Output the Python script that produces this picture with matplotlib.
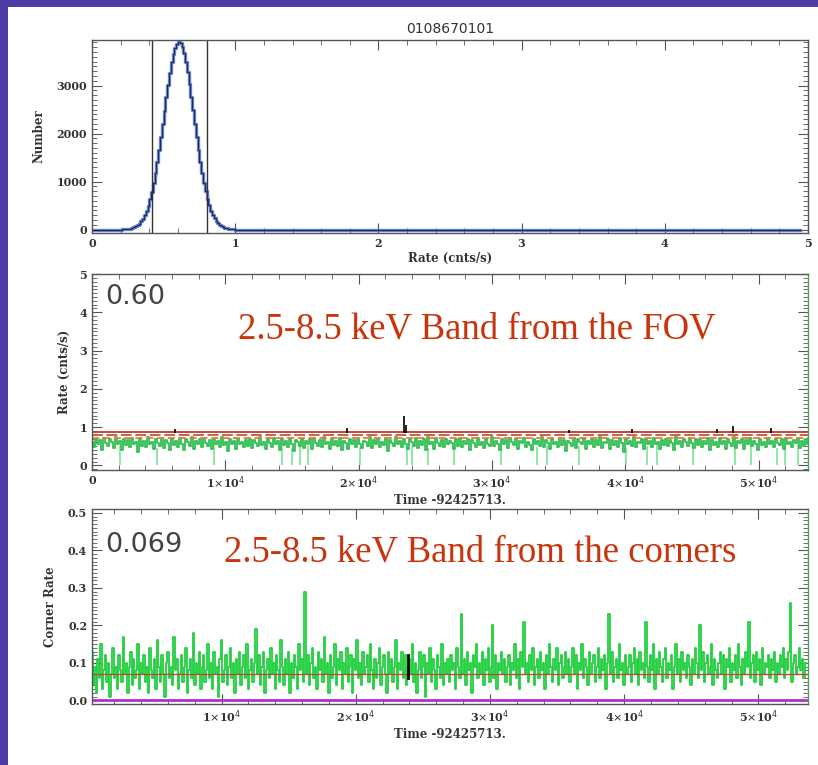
import numpy as np
import matplotlib
matplotlib.use("Agg")
import matplotlib.pyplot as plt
from matplotlib.patches import Rectangle
from matplotlib.ticker import MultipleLocator, FixedLocator, FixedFormatter, FormatStrFormatter

# ---- histogram of the 2.5-8.5 keV rate (top panel) ----
hist_rate0, hist_bin = 0.0, 0.0125
hist_num = [0] * 16 + [
    2, 4, 7, 10, 15, 22, 32, 46, 66, 92, 126, 171, 230, 302, 390, 502,
    638, 793, 971, 1174, 1400, 1653, 1921, 2199, 2479, 2757, 3023, 3268, 3483, 3659, 3791, 3872,
    3900, 3880, 3800, 3670, 3490, 3280, 3040, 2770, 2490, 2210, 1930, 1665, 1410, 1185, 980, 800,
    645, 510, 398, 308, 236, 178, 132, 98, 70, 52, 36, 26, 18, 12, 8, 5,
    3, 2, 1] + [0] * 313
cut_low, cut_high = 0.42, 0.80

# ---- FOV light curve (middle panel), rate in 0.01 cnts/s ----
fov_mean = 0.60
fov_lines = [0.87, 0.79, 0.71]
fov_t0, fov_dt = 0, 150
fov_rate_centi = [
    62, 48, 70, 55, 66, 41, 71, 58, 50, 68, 60, 45, 73, 56, 64, 40, 69, 53, 67, 47,
    72, 57, 61, 36, 70, 52, 65, 49, 74, 55, 62, 43, 68, 58, 51, 71, 46, 66, 59, 41,
    70, 54, 63, 48, 72, 57, 39, 69, 60, 50, 73, 44, 65, 55, 68, 47, 71, 58, 52, 66,
    42, 70, 56, 63, 49, 74, 53, 61, 37, 69, 57, 64, 43, 72, 55, 60, 48, 67, 52, 70,
    45, 66, 58, 50, 73, 54, 62, 44, 68, 59, 47, 71, 56, 65, 41, 69, 53, 63, 49, 72,
    57, 38, 67, 60, 51, 70, 46, 64, 55, 68, 43, 71, 58, 52, 66, 48, 73, 56, 61, 44,
    69, 54, 65, 50, 72, 40, 63, 58, 42, 70, 55, 67, 49, 71, 57, 46, 64, 60, 52, 74,
    45, 66, 56, 69, 48, 62, 53, 71, 37, 67, 59, 50, 73, 55, 63, 47, 70, 57, 42, 68,
    61, 51, 72, 46, 65, 54, 69, 39, 74, 56, 60, 44, 71, 58, 52, 67, 47, 70, 55, 63,
    58, 43, 68, 52, 71, 47, 64, 56, 70, 39, 66, 59, 49, 72, 54, 62, 45, 69, 57, 51,
    73, 50, 63, 57, 41, 70, 55, 67, 46, 72, 60, 53, 68, 44, 65, 58, 71, 48, 62, 54,
    40, 69, 57, 64, 51, 73, 47, 66, 59, 43, 70, 56, 62, 49, 72, 53, 67, 38, 65, 58,
    52, 71, 45, 68, 60, 55, 72, 42, 64, 57, 69, 48, 66, 53, 74, 46, 61, 58, 70, 44,
    67, 54, 63, 49, 71, 58, 36, 69, 56, 65, 51, 73, 47, 62, 59, 68, 43, 70, 55, 64,
    48, 72, 57, 61, 44, 67, 53, 70, 50, 66, 58, 41, 73, 55, 63, 47, 69, 60, 52, 71,
    59, 45, 68, 54, 70, 49, 64, 57, 72, 39, 66, 53, 61, 48, 71, 56, 65, 44, 69, 58,
    51, 73, 46, 63, 58, 69, 42, 67, 55, 71, 50, 64, 57, 40, 70, 54, 62, 48, 72, 56,
    65, 47, 70, 59, 53, 68, 44, 72, 56, 61, 49, 66, 58, 71, 45, 64, 52, 69, 57, 62]
fov_gap_t = [2100, 4840, 9140, 14220, 15000, 15590, 16180, 20090, 23600, 24000,
             25170, 27120, 30640, 33380, 34160, 36510, 40030, 41590, 42360, 45110,
             48240, 49400, 51350, 51950, 52930]
fov_gap_top = [0.50, 0.45, 0.55, 0.50, 0.45, 0.55, 0.50, 0.48, 0.52, 0.50,
               0.45, 0.50, 0.55, 0.48, 0.50, 0.52, 0.45, 0.50, 0.55, 0.48,
               0.50, 0.52, 0.45, 0.50, 0.55]
fov_hi_t = [6200, 19100, 23400, 23550, 35800, 40500, 46900, 48100, 50900]
fov_hi_rate = [0.95, 0.98, 1.28, 1.05, 0.93, 0.96, 0.95, 1.02, 0.97]

# ---- corner light curve (bottom panel), rate in 0.01 cnts/s ----
corner_mean = 0.069
corner_t0, corner_dt = 350, 111
corner_rate_centi = [
    13, 4, 9, 2, 11, 6, 15, 3, 8, 12, 5, 10, 1, 7, 14, 6, 9, 3, 12, 8,
    5, 17, 7, 10, 2, 9, 13, 4, 11, 6, 8, 15, 3, 10, 7, 12, 5, 9, 2, 14,
    8, 6, 11, 3, 16, 9, 5, 12, 7, 1, 10, 13, 6, 9, 4, 17, 8, 11, 3, 7,
    12, 5, 9, 14, 2, 8, 11, 6, 18, 4, 10, 7, 13, 3, 9, 12, 5, 8, 15, 6,
    10, 3, 13, 7, 9, 1, 11, 16, 5, 8, 12, 4, 9, 14, 6, 10, 2, 11, 7, 13,
    4, 9, 12, 6, 15, 3, 8, 11, 5, 10, 19, 7, 12, 4, 9, 13, 2, 8, 11, 6,
    14, 7, 10, 3, 12, 8, 5, 16, 9, 4, 11, 7, 13, 2, 10, 6, 12, 9, 3, 15,
    8, 11, 5, 29, 7, 12, 4, 10, 14, 6, 9, 3, 13, 8, 11, 5, 17, 7, 10, 2,
    12, 6, 9, 15, 4, 11, 8, 13, 3, 10, 7, 14, 5, 9, 12, 2, 11, 8, 16, 6,
    10, 4, 13, 7, 9, 12, 5, 15, 8, 3, 11, 6, 10, 14, 4, 9, 12, 7, 2, 13,
    7, 11, 5, 9, 16, 3, 10, 8, 13, 6, 12, 4, 9, 11, 7, 15, 5, 10, 2, 8,
    13, 6, 9, 12, 1, 10, 7, 14, 5, 11, 8, 3, 12, 9, 6, 15, 4, 10, 7, 11,
    5, 12, 8, 10, 3, 14, 9, 6, 23, 7, 11, 4, 13, 8, 10, 2, 12, 9, 15, 6,
    10, 7, 13, 4, 11, 8, 14, 5, 9, 20, 6, 12, 3, 10, 8, 13, 7, 11, 5, 9,
    12, 4, 10, 8, 15, 6, 11, 3, 13, 9, 21, 7, 10, 5, 12, 8, 14, 4, 9, 11,
    6, 13, 8, 10, 3, 12, 7, 15, 9, 5, 11, 8, 14, 4, 10, 12, 6, 9, 13, 7,
    11, 5, 9, 14, 7, 12, 3, 10, 8, 15, 6, 11, 9, 4, 13, 7, 10, 12, 5, 9,
    14, 6, 11, 8, 12, 3, 10, 23, 7, 13, 5, 9, 11, 6, 15, 8, 10, 4, 12, 7,
    9, 12, 5, 10, 14, 7, 11, 4, 13, 8, 10, 6, 21, 9, 5, 12, 8, 15, 3, 11,
    7, 13, 9, 5, 11, 14, 6, 10, 8, 12, 3, 9, 15, 7, 11, 5, 13, 8, 10, 6,
    12, 9, 4, 11, 7, 14, 10, 6, 20, 8, 13, 5, 10, 12, 7, 9, 15, 4, 11, 8,
    6, 10, 13, 7, 12, 3, 11, 9, 14, 5, 10, 8, 12, 6, 15, 9, 4, 11, 7, 13,
    9, 21, 6, 10, 12, 5, 13, 8, 11, 4, 14, 7, 10, 9, 12, 6, 11, 8, 13, 5,
    10, 7, 12, 9, 14, 6, 11, 8, 13, 26, 5, 10, 12, 7, 9, 14, 8, 11, 6, 10]
corner_hi_t = [23900, 23900]
corner_hi_rate = [0.06, 0.12]

time_ticks = [10000, 20000, 30000, 40000, 50000]
time_labels = [r"1$\times$10$^4$", r"2$\times$10$^4$", r"3$\times$10$^4$",
               r"4$\times$10$^4$", r"5$\times$10$^4$"]

label_font = dict(family="DejaVu Serif", weight="bold", size=8.5, color="#333333")


def idl_axes(ax, xmajor, xminor, ymajor, yminor):
    ax.tick_params(which="both", direction="in", top=True, right=True,
                   colors="#555555", labelsize=8)
    ax.tick_params(which="major", length=7, width=0.8)
    ax.tick_params(which="minor", length=3.5, width=0.6)
    ax.xaxis.set_minor_locator(MultipleLocator(xminor))
    ax.yaxis.set_minor_locator(MultipleLocator(yminor))
    ax.yaxis.set_major_locator(MultipleLocator(ymajor))
    if xmajor:
        ax.xaxis.set_major_locator(MultipleLocator(xmajor))
    for s in ax.spines.values():
        s.set_color("#555555")
        s.set_linewidth(1.0)
    for lab in ax.get_xticklabels() + ax.get_yticklabels():
        lab.set_fontfamily("DejaVu Serif")
        lab.set_fontweight("bold")
        lab.set_color("#333333")


fig = plt.figure(figsize=(8.18, 7.65), dpi=100)
fig.patch.set_facecolor("#4b3ca8")
fig.patches.append(Rectangle((8 / 818, 0), 1, 1 - 7 / 765, transform=fig.transFigure,
                             facecolor="white", edgecolor="none", zorder=-10))

# top panel
ax1 = fig.add_axes([0.1125, 0.6954, 0.8753, 0.2523])
hist_rate = hist_rate0 + hist_bin * np.arange(len(hist_num)) + hist_bin / 2
ax1.step(hist_rate, hist_num, where="mid", color="#4a68c0", lw=2.4, alpha=0.85)
ax1.step(hist_rate, hist_num, where="mid", color="#1a2a5a", lw=0.7)
ax1.axvline(cut_low, color="#333333", lw=1.0)
ax1.axvline(cut_high, color="#333333", lw=1.0)
ax1.set_xlim(0, 5)
ax1.set_ylim(-70, 3950)
ax1.set_title("0108670101", fontsize=10, family="DejaVu Sans", color="#333333", pad=5)
ax1.set_xlabel("Rate (cnts/s)", **label_font, labelpad=2)
ax1.set_ylabel("Number", **label_font, labelpad=8)
idl_axes(ax1, 1, 0.2, 1000, 100)

# middle panel
ax2 = fig.add_axes([0.1125, 0.3856, 0.8753, 0.2562])
fov_t = fov_t0 + fov_dt * np.arange(len(fov_rate_centi))
fov_rate = np.array(fov_rate_centi) / 100.0
ax2.vlines(fov_gap_t, 0, fov_gap_top, color="#8fe6a6", lw=1.4)
ax2.plot(fov_t, fov_rate, color="#2fc050", lw=1.3, drawstyle="steps-mid")
for y, ls, c in zip(fov_lines, ["-", (0, (6, 2)), (0, (4, 2))],
                    ["#c0392b", "#d0503a", "#e08040"]):
    ax2.axhline(y, color=c, lw=1.3, ls=ls)
ax2.vlines(fov_hi_t, 0.85, fov_hi_rate, color="black", lw=1.2)
ax2.set_xlim(0, 53700)
ax2.set_ylim(-0.12, 5.0)
ax2.xaxis.set_major_locator(FixedLocator([0] + time_ticks))
ax2.xaxis.set_major_formatter(FixedFormatter(["0"] + time_labels))
ax2.set_xlabel("Time -92425713.", **label_font, labelpad=2)
ax2.set_ylabel("Rate (cnts/s)", **label_font, labelpad=6)
idl_axes(ax2, None, 2000, 1, 0.1)
ax2.spines["right"].set_color("#4fa060")
ax2.text(0.018, 0.885, f"{fov_mean:.2f}", transform=ax2.transAxes, fontsize=19.5,
         family="DejaVu Sans", color="#444444", va="center")
ax2.text(0.538, 0.72, "2.5-8.5 keV Band from the FOV", transform=ax2.transAxes,
         fontsize=26.5, family="Liberation Serif", color="#c8340c", ha="center", va="center")

# bottom panel
ax3 = fig.add_axes([0.1125, 0.0797, 0.8753, 0.2549])
corner_t = corner_t0 + corner_dt * np.arange(len(corner_rate_centi))
corner_rate = np.array(corner_rate_centi) / 100.0
ax3.plot(corner_t, corner_rate, color="#22d040", lw=1.3, drawstyle="steps-mid")
ax3.axhline(corner_mean, color="#b05030", lw=1.0)
ax3.axhline(0.0, color="#b030d0", lw=2.0)
ax3.plot(corner_hi_t, corner_hi_rate, color="black", lw=2.0)
ax3.set_xlim(350, 53700)
ax3.set_ylim(-0.01, 0.51)
ax3.xaxis.set_major_locator(FixedLocator(time_ticks))
ax3.xaxis.set_major_formatter(FixedFormatter(time_labels))
ax3.set_xlabel("Time -92425713.", **label_font, labelpad=2)
ax3.set_ylabel("Corner Rate", **label_font, labelpad=8)
idl_axes(ax3, None, 2000, 0.1, 0.01)
ax3.yaxis.set_major_formatter(FormatStrFormatter("%.1f"))
ax3.spines["right"].set_color("#4fa060")
ax3.text(0.018, 0.815, f"{corner_mean:.3f}", transform=ax3.transAxes, fontsize=19.5,
         family="DejaVu Sans", color="#444444", va="center")
ax3.text(0.542, 0.78, "2.5-8.5 keV Band from the corners", transform=ax3.transAxes,
         fontsize=26.5, family="Liberation Serif", color="#c8340c", ha="center", va="center")

fig.savefig("out.png", dpi=100, facecolor=fig.get_facecolor())
